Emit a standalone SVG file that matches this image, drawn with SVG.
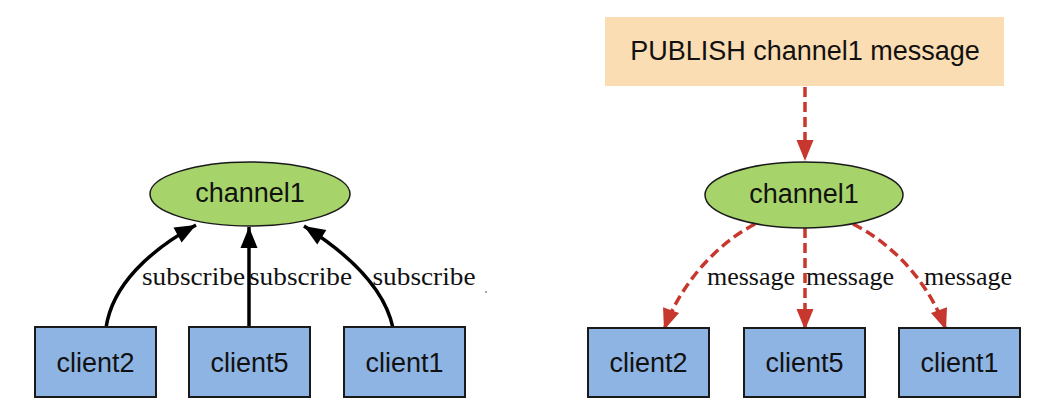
<svg xmlns="http://www.w3.org/2000/svg" width="1051" height="410" viewBox="0 0 1051 410">
<style>
.ell{fill:#a6d46b;stroke:#1a1a1a;stroke-width:1.5}
.box{fill:#8eb4e3;stroke:#1a1a1a;stroke-width:2}
.pub{fill:#fbddb3}
.t{font-family:"Liberation Sans",Arial,sans-serif;font-size:27px;fill:#111;text-anchor:middle}
.lbl{font-family:"Liberation Serif","Times New Roman",serif;font-size:26px;fill:#111;text-anchor:middle}
.blk{fill:none;stroke:#000;stroke-width:3.5;marker-end:url(#ab)}
.red{fill:none;stroke:#c8372d;stroke-width:3.5;stroke-dasharray:10 5;marker-end:url(#ar)}
</style>
<defs>
<marker id="ab" markerUnits="userSpaceOnUse" markerWidth="24" markerHeight="24" viewBox="0 0 24 24" refX="22" refY="12" orient="auto"><path d="M1,3.5 L22,12 L1,20.5 Z" fill="#000"/></marker>
<marker id="ar" markerUnits="userSpaceOnUse" markerWidth="24" markerHeight="24" viewBox="0 0 24 24" refX="22" refY="12" orient="auto"><path d="M1,3.5 L22,12 L1,20.5 Z" fill="#c8372d"/></marker>
</defs>
<rect width="1051" height="410" fill="#fff"/>
<g id="connectors">
<path class="blk" d="M106,328 C112,285 150,250 196,225"/>
<path class="blk" d="M249,328 L249,227"/>
<path class="blk" d="M393,328 C385,290 350,255 304,226"/>
<path class="red" d="M805,87 L805,161"/>
<path class="red" d="M755,224 C715,245 680,285 664,330"/>
<path class="red" d="M805,228 L805,330"/>
<path class="red" d="M853,224 C895,245 930,285 946,330"/>
<text class="lbl" x="193.5" y="285" textLength="103" lengthAdjust="spacingAndGlyphs">subscribe</text>
<text class="lbl" x="300.5" y="285" textLength="103" lengthAdjust="spacingAndGlyphs">subscribe</text>
<text class="lbl" x="424" y="285" textLength="103" lengthAdjust="spacingAndGlyphs">subscribe</text>
<text class="lbl" x="751" y="285">message</text>
<text class="lbl" x="850" y="285">message</text>
<text class="lbl" x="968" y="285">message</text>
</g>
<g id="channel1-left"><ellipse class="ell" cx="250" cy="194" rx="100" ry="32"/><text class="t" x="250" y="202">channel1</text></g>
<g id="client2-left"><rect class="box" x="35" y="327" width="121" height="70"/><text class="t" x="95.5" y="372">client2</text></g>
<g id="client5-left"><rect class="box" x="189" y="327" width="121" height="70"/><text class="t" x="249.5" y="372">client5</text></g>
<g id="client1-left"><rect class="box" x="344" y="327" width="121" height="70"/><text class="t" x="404.5" y="372">client1</text></g>
<g id="publish"><rect class="pub" x="605" y="17" width="399" height="69"/><text class="t" x="805" y="60">PUBLISH channel1 message</text></g>
<g id="channel1-right"><ellipse class="ell" cx="804" cy="195" rx="99" ry="33"/><text class="t" x="804" y="203">channel1</text></g>
<g id="client2-right"><rect class="box" x="588" y="328" width="121" height="69"/><text class="t" x="648.5" y="372">client2</text></g>
<g id="client5-right"><rect class="box" x="744" y="328" width="121" height="69"/><text class="t" x="804.5" y="372">client5</text></g>
<g id="client1-right"><rect class="box" x="899" y="328" width="121" height="69"/><text class="t" x="959.5" y="372">client1</text></g>
<circle cx="486" cy="292" r="0.8" fill="#333"/>
</svg>
